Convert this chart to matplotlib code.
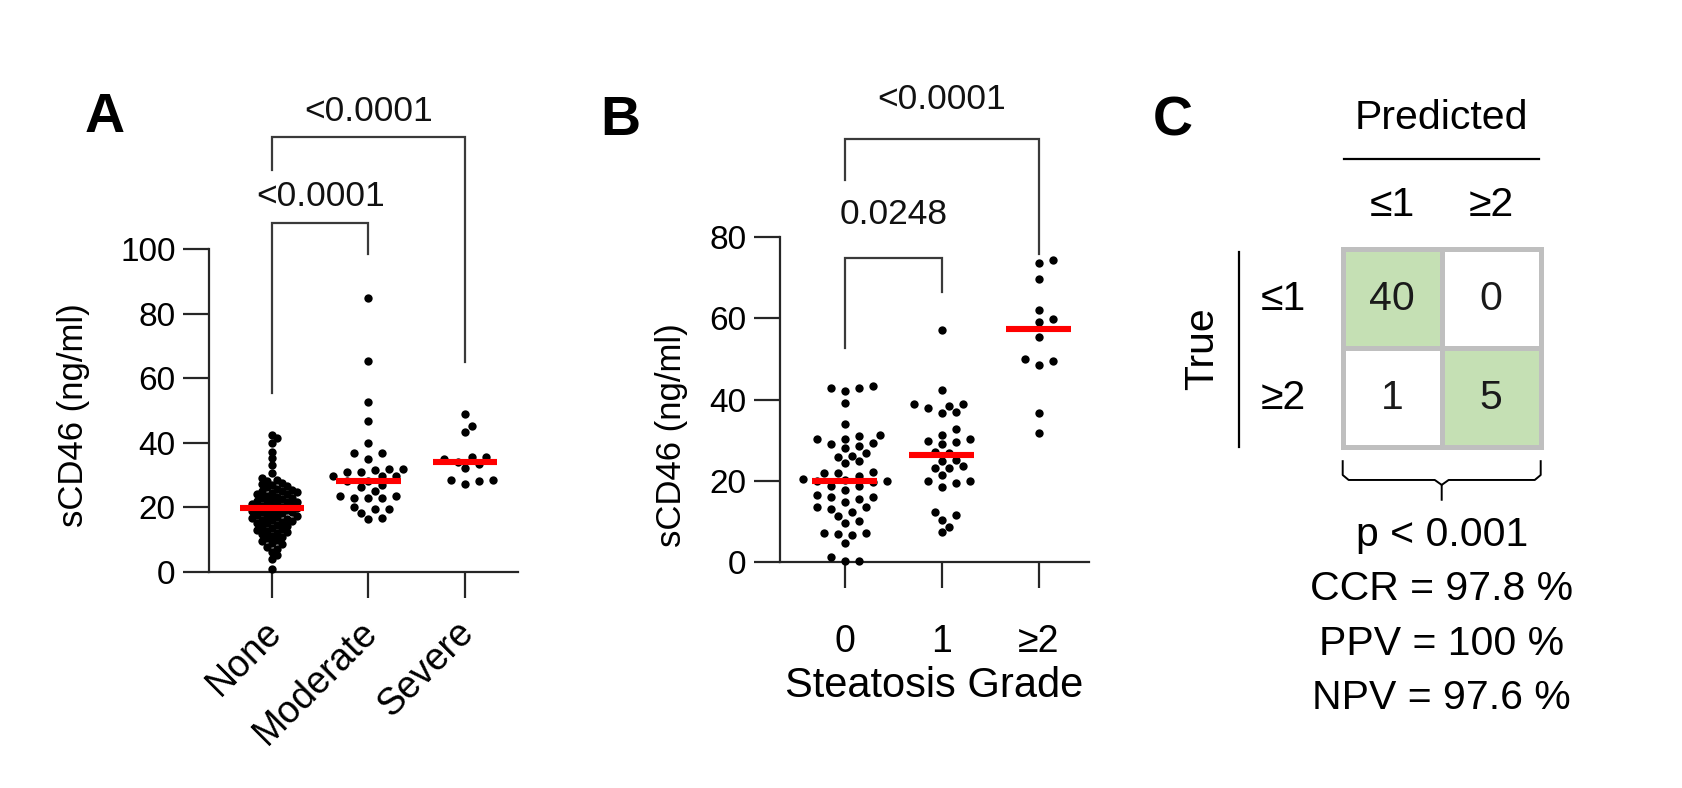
import numpy as np
import matplotlib
matplotlib.use('Agg')
import matplotlib.pyplot as plt
import matplotlib.transforms as mtrans
from matplotlib.patches import Rectangle

plt.rcParams['font.family'] = ['Liberation Sans', 'DejaVu Sans']

W, H = 1682, 788

# ---- panel A: sCD46 by group ----
groups_a = ['None', 'Moderate', 'Severe']
none_a = [42.4, 41.5, 39.8, 37.2, 35.2, 33.1, 30.5,
          29.0, 28.5, 28.0, 27.6, 27.2, 27.0,
          26.5, 26.2, 25.8, 25.5, 25.2, 25.0, 24.7, 24.4, 24.1, 24.0,
          23.6, 23.3, 23.0, 22.8, 22.5, 22.3, 22.0, 21.8, 21.5, 21.3, 21.1, 21.0,
          20.7, 20.4, 20.2, 20.0, 19.8, 19.6, 19.4, 19.2, 19.0, 18.8, 18.6, 18.4, 18.2, 18.0,
          17.7, 17.4, 17.2, 17.0, 16.7, 16.5, 16.2, 16.0, 15.7, 15.4, 15.2, 15.0,
          14.6, 14.3, 14.0, 13.6, 13.3, 13.0, 12.6, 12.3, 12.0,
          11.6, 11.2, 10.8, 10.4, 10.0, 9.5, 9.0,
          8.5, 7.8, 7.0, 6.2, 5.2, 4.0, 0.8]
moderate_a = [84.9, 65.4, 52.7, 46.7, 40.0, 36.7, 36.7, 35.0,
              31.0, 31.0, 32.0, 32.0, 31.5, 29.7, 29.7, 29.7, 28.3, 28.0,
              26.4, 26.9, 24.9, 22.8, 23.5, 22.8, 22.8, 23.5,
              19.4, 20.0, 19.4, 18.1, 16.3, 16.8]
severe_a = [48.9, 45.2, 43.2, 34.9, 35.5, 35.5, 34.1, 33.4, 32.1, 28.5, 28.2, 28.5, 27.2]
median_a = [19.7, 28.2, 34.1]
pvals_a = ['<0.0001', '<0.0001']

# ---- panel B: sCD46 by steatosis grade ----
groups_b = ['0', '1', '≥2']
grade0_b = [42.9, 42.9, 42.1, 43.3, 39.2, 34.1,
            31.4, 29.4, 31.0, 29.2, 30.4, 28.5, 30.4,
            28.1, 25.9, 26.2, 26.8, 24.8, 24.4,
            22.3, 21.9, 21.9, 21.1,
            20.0, 20.2, 19.8, 20.0, 20.5,
            17.9, 18.8, 18.8,
            16.6, 16.1, 15.5, 16.0,
            14.9, 13.7, 12.5, 11.4, 13.0, 13.5,
            9.7, 10.1, 7.1, 7.0, 7.3, 6.7, 4.8, 1.3, 0.4, 0.3]
grade1_b = [57.2, 42.4, 38.8, 36.9, 38.8, 36.7, 37.9, 38.3, 32.7,
            31.4, 29.5, 30.4, 29.7, 29.1, 26.8, 24.8, 27.0, 25.2, 23.2,
            23.6, 21.5, 19.5, 23.2, 19.9, 19.9, 18.6,
            12.5, 10.4, 7.4, 11.6, 8.8]
grade2_b = [74.2, 73.6, 69.6, 62.1, 59.7, 59.0, 55.4, 49.9, 49.4, 48.6, 36.7, 31.7]
median_b = [20.0, 26.3, 57.4]
pvals_b = ['0.0248', '<0.0001']

# ---- panel C: confusion matrix ----
conf_labels = ['≤1', '≥2']
conf_matrix = [[40, 0], [1, 5]]
stats_lines = ['p < 0.001', 'CCR = 97.8 %', 'PPV = 100 %', 'NPV = 97.6 %']

INK = '#262626'
TICK_FS = 24
TXT_FS = 27
P_FS = 25.5
C_FS = 29.5


def px_axes(fig, l, t, r, b):
    return fig.add_axes([l / W, 1 - b / H, (r - l) / W, (b - t) / H])


def swarm(vals, px_x, px_y, dmin, step):
    """simple beeswarm: x offsets (data units) so dots don't pile up"""
    vals = np.asarray(vals, float)
    offs = np.zeros(len(vals))
    placed = []
    cands = [0]
    for k in range(1, 20):
        cands += [k, -k]
    for i in np.argsort(vals):
        y = vals[i] * px_y
        for k in cands:
            x = k * step
            if all((x - a) ** 2 + (y - b) ** 2 >= dmin ** 2 for a, b in placed):
                break
        placed.append((x, y))
        offs[i] = x / px_x
    return offs


def bracket(ax, x1, x2, ytop, yl, yr, label, ytxt):
    ax.plot([x1, x1, x2, x2], [yl, ytop, ytop, yr], color='#3a3a3a', lw=1.6,
            clip_on=False, solid_joinstyle='miter')
    ax.text((x1 + x2) / 2, ytxt, label, ha='center', va='center',
            fontsize=P_FS, color='#111111', clip_on=False)


def dot_panel(ax, series, medians, labels, ymax, yticks, px_x, px_y, dmins, steps):
    for i, (vals, med) in enumerate(zip(series, medians)):
        dx = swarm(vals, px_x, px_y, dmins[i], steps[i])
        ax.scatter(i + dx, vals, s=36, color='black', linewidths=0, zorder=3,
                   clip_on=False)
        ax.plot([i - 0.335, i + 0.335], [med, med], color='#ff0000', lw=4.4,
                solid_capstyle='butt', zorder=4)
    ax.set_ylim(0, ymax)
    ax.set_yticks(yticks)
    ax.set_xticks(range(len(labels)))
    ax.set_xticklabels(labels)
    for s in ('top', 'right'):
        ax.spines[s].set_visible(False)
    for s in ('left', 'bottom'):
        ax.spines[s].set_linewidth(1.6)
        ax.spines[s].set_color(INK)
    ax.tick_params(axis='both', length=19, width=1.6, color=INK,
                   labelsize=TICK_FS, direction='out')
    ax.tick_params(axis='y', pad=5)


fig = plt.figure(figsize=(W / 100, H / 100), dpi=100)

# Panel A
axa = px_axes(fig, 209, 249, 518, 571.9)
axa.set_xlim(-0.653, 2.55)
dot_panel(axa, [none_a, moderate_a, severe_a], median_a, groups_a, 100,
          [0, 20, 40, 60, 80, 100], 96.5, 3.229, [5.6, 9.0, 9.0], [5.0, 7.0, 7.0])
axa.tick_params(axis='x', pad=9)
shift = mtrans.ScaledTranslation(-9 / 100, -3 / 100, fig.dpi_scale_trans)
for t in axa.get_xticklabels():
    t.set_rotation(45)
    t.set_ha('right')
    t.set_rotation_mode('anchor')
    t.set_fontsize(TXT_FS)
    t.set_transform(t.get_transform() + shift)
axa.text(-0.44, 0.486, 'sCD46 (ng/ml)', transform=axa.transAxes, rotation=90,
         ha='center', va='center', fontsize=25)
bracket(axa, 0, 1, 108.1, 55.3, 98.4, pvals_a[0], 116.3)
bracket(axa, 0, 2, 134.6, 124.6, 65.1, pvals_a[1], 142.5)

# Panel B
axb = px_axes(fig, 780, 236.7, 1089, 562.4)
axb.set_xlim(-0.67, 2.52)
dot_panel(axb, [grade0_b, grade1_b, grade2_b], median_b, groups_b, 80,
          [0, 20, 40, 60, 80], 97, 4.072, [9.0, 9.0, 9.0], [7.0, 7.0, 7.0])
axb.tick_params(axis='x', pad=25)
for t in axb.get_xticklabels():
    t.set_fontsize(TXT_FS)
axb.text(0.5, -0.38, 'Steatosis Grade', transform=axb.transAxes,
         ha='center', va='center', fontsize=30)
axb.text(-0.35, 0.392, 'sCD46 (ng/ml)', transform=axb.transAxes, rotation=90,
         ha='center', va='center', fontsize=25)
bracket(axb, 0, 1, 74.7, 52.7, 66.5, pvals_b[0], 85.4)
bracket(axb, 0, 2, 103.9, 93.9, 75.7, pvals_b[1], 113.6)

# Panel C
axc = px_axes(fig, 1342.7, 249.3, 1540.7, 447.3)
axc.set_xlim(0, 2)
axc.set_ylim(2, 0)
axc.axis('off')
for r in range(2):
    for c in range(2):
        face = '#c5e0b4' if r == c else 'white'
        axc.add_patch(Rectangle((c, r), 1, 1, facecolor=face, edgecolor='#bfbfbf',
                                lw=3.6, clip_on=False))
        axc.text(c + 0.5, r + 0.5, str(conf_matrix[r][c]), ha='center',
                 va='center', fontsize=C_FS, color='#1a1a1a')
    axc.text(r + 0.5, -0.45, conf_labels[r], ha='center', va='center',
             fontsize=C_FS, clip_on=False)
    axc.text(-0.6, r + 0.5, conf_labels[r], ha='center', va='center',
             fontsize=C_FS, clip_on=False)
axc.text(1.0, -1.33, 'Predicted', ha='center', va='center', fontsize=C_FS,
         clip_on=False)
axc.plot([0.01, 1.98], [-0.912, -0.912], color='black', lw=1.6, clip_on=False)
axc.text(-1.42, 1.0, 'True', rotation=90, ha='center', va='center',
         fontsize=C_FS, clip_on=False)
axc.plot([-1.047, -1.047], [0.025, 1.995], color='black', lw=1.6, clip_on=False)
# curly bracket under the matrix
axc.plot([0.0, 0.0, 0.06, 0.93, 1.0, 1.0], [2.14, 2.28, 2.33, 2.33, 2.38, 2.53],
         color='black', lw=1.4, clip_on=False)
axc.plot([2.0, 2.0, 1.94, 1.07, 1.0], [2.14, 2.28, 2.33, 2.33, 2.38],
         color='black', lw=1.4, clip_on=False)
for k, line in enumerate(stats_lines):
    axc.text(1.0, 2.886 + 0.55 * k, line, ha='center', va='center',
             fontsize=C_FS, clip_on=False)

# panel letters
for letter, (x, y) in zip('ABC', [(105, 118), (620, 121), (1173, 122)]):
    fig.text(x / W, 1 - y / H, letter, ha='center', va='center',
             fontsize=40, fontweight='bold')

fig.savefig('out.png', dpi=100, facecolor='white')
